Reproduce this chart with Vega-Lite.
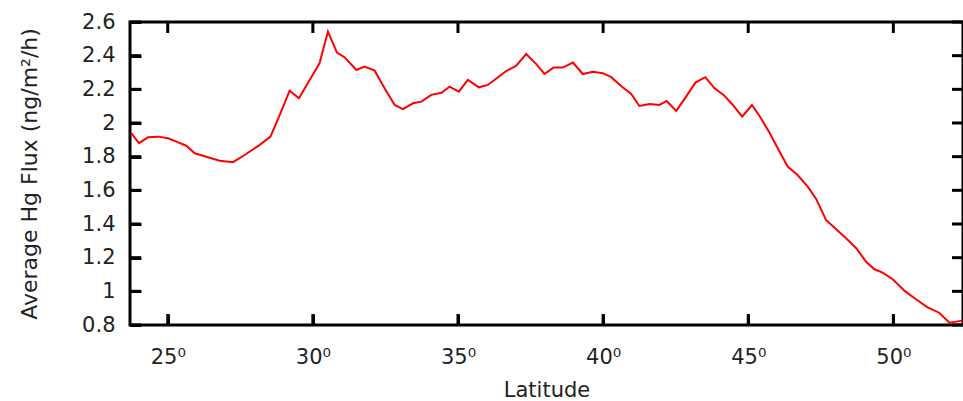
{
  "$schema": "https://vega.github.io/schema/vega-lite/v6.json",
  "width": 833,
  "height": 303,
  "autosize": {"type": "none"},
  "padding": {"left": 130, "top": 22, "right": 0, "bottom": 76},
  "background": "white",
  "config": {
    "view": {"stroke": "black", "strokeWidth": 3},
    "font": "DejaVu Sans",
    "axis": {
      "domain": false,
      "ticks": true,
      "tickWidth": 3,
      "tickSize": 11,
      "offset": -11,
      "grid": false,
      "labelFont": "DejaVu Sans",
      "labelFontSize": 21,
      "labelColor": "#222",
      "titleFont": "DejaVu Sans",
      "titleFontSize": 21,
      "titleFontWeight": "normal",
      "titleColor": "#222"
    }
  },
  "datasets": {
    "flux": [
      {"lat": 23.73, "flux": 1.943},
      {"lat": 24.01, "flux": 1.88},
      {"lat": 24.32, "flux": 1.915},
      {"lat": 24.67, "flux": 1.919},
      {"lat": 25.01, "flux": 1.909},
      {"lat": 25.3, "flux": 1.889},
      {"lat": 25.64, "flux": 1.865},
      {"lat": 25.93, "flux": 1.82},
      {"lat": 26.33, "flux": 1.8},
      {"lat": 26.79, "flux": 1.776},
      {"lat": 27.25, "flux": 1.767},
      {"lat": 27.65, "flux": 1.81},
      {"lat": 28.17, "flux": 1.87},
      {"lat": 28.54, "flux": 1.919},
      {"lat": 28.86, "flux": 2.048},
      {"lat": 29.2, "flux": 2.192},
      {"lat": 29.52, "flux": 2.147},
      {"lat": 29.89, "flux": 2.256},
      {"lat": 30.23, "flux": 2.355},
      {"lat": 30.52, "flux": 2.543},
      {"lat": 30.83, "flux": 2.418},
      {"lat": 31.09, "flux": 2.391},
      {"lat": 31.5, "flux": 2.315},
      {"lat": 31.78, "flux": 2.335},
      {"lat": 32.13, "flux": 2.311},
      {"lat": 32.47, "flux": 2.206},
      {"lat": 32.82, "flux": 2.107},
      {"lat": 33.1, "flux": 2.082},
      {"lat": 33.45, "flux": 2.117},
      {"lat": 33.74, "flux": 2.127},
      {"lat": 34.08, "flux": 2.167},
      {"lat": 34.43, "flux": 2.18},
      {"lat": 34.71, "flux": 2.216},
      {"lat": 35.03, "flux": 2.186},
      {"lat": 35.34, "flux": 2.256},
      {"lat": 35.72, "flux": 2.212},
      {"lat": 36.03, "flux": 2.226},
      {"lat": 36.38, "flux": 2.272},
      {"lat": 36.66, "flux": 2.309},
      {"lat": 37.0, "flux": 2.339},
      {"lat": 37.35, "flux": 2.41},
      {"lat": 37.69, "flux": 2.351},
      {"lat": 37.98, "flux": 2.291},
      {"lat": 38.29, "flux": 2.329},
      {"lat": 38.61, "flux": 2.329},
      {"lat": 38.96, "flux": 2.359},
      {"lat": 39.3, "flux": 2.291},
      {"lat": 39.65, "flux": 2.305},
      {"lat": 39.99, "flux": 2.296},
      {"lat": 40.28, "flux": 2.272},
      {"lat": 40.62, "flux": 2.22},
      {"lat": 40.97, "flux": 2.173},
      {"lat": 41.25, "flux": 2.101},
      {"lat": 41.6, "flux": 2.113},
      {"lat": 41.94, "flux": 2.107},
      {"lat": 42.19, "flux": 2.131},
      {"lat": 42.52, "flux": 2.072},
      {"lat": 42.86, "flux": 2.157},
      {"lat": 43.18, "flux": 2.24},
      {"lat": 43.52, "flux": 2.272},
      {"lat": 43.84, "flux": 2.206},
      {"lat": 44.15, "flux": 2.167},
      {"lat": 44.47, "flux": 2.107},
      {"lat": 44.79, "flux": 2.038},
      {"lat": 45.13, "flux": 2.107},
      {"lat": 45.44, "flux": 2.028},
      {"lat": 45.73, "flux": 1.943},
      {"lat": 46.05, "flux": 1.84},
      {"lat": 46.36, "flux": 1.741},
      {"lat": 46.7, "flux": 1.691},
      {"lat": 47.05, "flux": 1.622},
      {"lat": 47.34, "flux": 1.549},
      {"lat": 47.68, "flux": 1.424},
      {"lat": 48.03, "flux": 1.369},
      {"lat": 48.37, "flux": 1.315},
      {"lat": 48.72, "flux": 1.256},
      {"lat": 49.06, "flux": 1.176},
      {"lat": 49.35, "flux": 1.131},
      {"lat": 49.63, "flux": 1.111},
      {"lat": 49.98, "flux": 1.072},
      {"lat": 50.38, "flux": 1.004},
      {"lat": 50.78, "flux": 0.953},
      {"lat": 51.18, "flux": 0.905},
      {"lat": 51.58, "flux": 0.873},
      {"lat": 51.93, "flux": 0.814},
      {"lat": 52.16, "flux": 0.82},
      {"lat": 52.38, "flux": 0.826}
    ],
    "xticks": [{"lat": 25}, {"lat": 30}, {"lat": 35}, {"lat": 40}, {"lat": 45}, {"lat": 50}],
    "yticks": [{"flux": 0.8}, {"flux": 1}, {"flux": 1.2}, {"flux": 1.4}, {"flux": 1.6}, {"flux": 1.8}, {"flux": 2}, {"flux": 2.2}, {"flux": 2.4}, {"flux": 2.6}]
  },
  "layer": [
    {
      "data": {"name": "flux"},
      "mark": {"type": "line", "color": "#ff0000", "strokeWidth": 2},
      "encoding": {
        "x": {
          "field": "lat",
          "type": "quantitative",
          "scale": {"domain": [23.7, 52.4], "nice": false, "zero": false},
          "axis": {
            "title": "Latitude",
            "tickColor": "black",
            "values": [25, 30, 35, 40, 45, 50],
            "labelExpr": "datum.value + '⁰'",
            "labelPadding": 21,
            "titlePadding": 12
          }
        },
        "y": {
          "field": "flux",
          "type": "quantitative",
          "scale": {"domain": [0.8, 2.6], "nice": false, "zero": false},
          "axis": {
            "title": "Average Hg Flux (ng/m²/h)",
            "titleFontSize": 22,
            "tickColor": "black",
            "values": [0.8, 1, 1.2, 1.4, 1.6, 1.8, 2, 2.2, 2.4, 2.6],
            "labelExpr": "format(datum.value, '.1~f')",
            "labelPadding": 15,
            "titlePadding": 40
          }
        }
      }
    },
    {
      "data": {"name": "xticks"},
      "mark": {"type": "rule", "color": "black", "strokeWidth": 3},
      "encoding": {
        "x": {"field": "lat", "type": "quantitative", "axis": null},
        "y": {"datum": 0.8, "type": "quantitative", "axis": null},
        "y2": {"datum": 0.8654}
      }
    },
    {
      "data": {"name": "xticks"},
      "mark": {"type": "rule", "color": "black", "strokeWidth": 3},
      "encoding": {
        "x": {"field": "lat", "type": "quantitative", "axis": null},
        "y": {"datum": 2.6, "type": "quantitative", "axis": null},
        "y2": {"datum": 2.5346}
      }
    },
    {
      "data": {"name": "yticks"},
      "mark": {"type": "rule", "color": "black", "strokeWidth": 3},
      "encoding": {
        "y": {"field": "flux", "type": "quantitative", "axis": null},
        "x": {"datum": 23.7, "type": "quantitative", "axis": null},
        "x2": {"datum": 24.079}
      }
    },
    {
      "data": {"name": "yticks"},
      "mark": {"type": "rule", "color": "black", "strokeWidth": 3},
      "encoding": {
        "y": {"field": "flux", "type": "quantitative", "axis": null},
        "x": {"datum": 52.4, "type": "quantitative", "axis": null},
        "x2": {"datum": 52.021}
      }
    }
  ],
  "resolve": {"axis": {"x": "independent", "y": "independent"}}
}
